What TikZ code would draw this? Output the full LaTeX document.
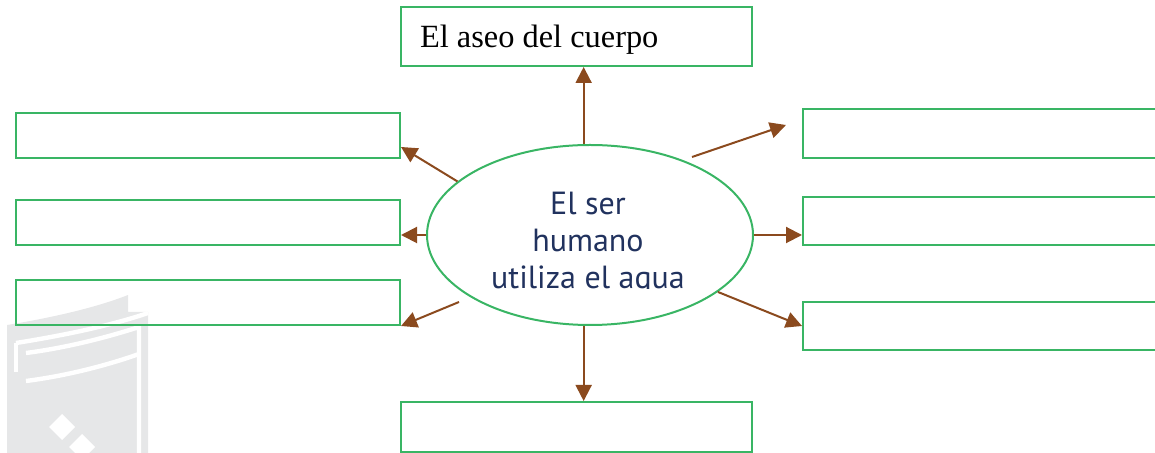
\documentclass[tikz,border=0pt]{standalone}
\usepackage{fontspec}
\setmainfont{Liberation Serif}
\newfontfamily\hubfont{PT Sans}
\usepackage{tikz}
\usetikzlibrary{positioning,calc,arrows.meta,shapes.geometric}

\definecolor{boxgreen}{RGB}{57,181,100}
\definecolor{arrbrown}{RGB}{139,74,30}
\definecolor{hubblue}{RGB}{33,50,94}
\definecolor{wmgrey}{RGB}{230,231,232}

\begin{document}
\begin{tikzpicture}[x=0.5pt, y=-0.5pt,
  box/.style={draw=boxgreen, line width=1pt, inner sep=0pt},
  wide/.style={box, minimum width=192pt, minimum height=22.5pt},
  arr/.style={-{Triangle[width=8pt,length=8pt]}, draw=arrbrown, fill=arrbrown, line width=1pt},
  wmline/.style={draw=white, line width=2.2pt}]
  \useasboundingbox (0,0) rectangle (1155,453);

  % faint mark in the corner
  \fill[wmgrey] (7,453) -- (7,325) .. controls (50,318) and (95,308) .. (128,295)
    -- (128,312) -- (148,312) -- (148,453) -- cycle;
  \draw[wmline] (16,343) .. controls (60,336) and (110,326) .. (148,313);
  \draw[wmline] (26,353) .. controls (65,348) and (105,338) .. (139,327) -- (139,453);
  \draw[wmline] (26,381) .. controls (65,376) and (105,366) .. (139,354);
  \draw[wmline] (16,343) -- (16,372);
  \fill[white] (62,414) -- (75,427) -- (62,440) -- (49,427) -- cycle;
  \fill[white] (82,434) -- (95,447) -- (82,460) -- (69,447) -- cycle;

  % centre
  \node[ellipse, draw=boxgreen, line width=1pt, inner sep=0pt,
        minimum width=163pt, minimum height=90pt] (hub) at (590,235) {};
  \begin{scope}
    \clip (400,150) rectangle (780,288.5);
    \node[font=\hubfont\fontsize{16}{18.5}\selectfont, text=hubblue, align=center]
      (hubtext) at (588,244) {El ser\\humano\\utiliza el agua};
  \end{scope}

  % boxes
  \node[box, minimum width=175.5pt, minimum height=29.5pt, text width=156.5pt,
        inner xsep=9.5pt, align=flush left, text depth=0.5pt,
        font=\fontsize{16.2}{18}\selectfont]
    (aseo) at (576.5,36.5) {El aseo del cuerpo};
  \node[wide] (lup) at (208,135.5) {};
  \node[wide] (lmid) at (208,222.5) {};
  \node[wide] (llow) at (208,302.5) {};
  \node[box, minimum width=180pt, minimum height=24.5pt] (rup) at (983,133.5) {};
  \node[box, minimum width=180pt, minimum height=24pt] (rmid) at (983,221) {};
  \node[box, minimum width=180pt, minimum height=24pt] (rlow) at (983,326) {};
  \node[box, minimum width=175.5pt, minimum height=25pt] (bot) at (576.5,427) {};

  % arrows
  \coordinate (urA) at (692,157);
  \coordinate (urB) at (786,125);
  \coordinate (llA) at (459,302);
  \draw[arr] (hub.94) -- (hub.94 |- aseo.south);
  \draw[arr] (hub.-94) -- (hub.-94 |- bot.north);
  \draw[arr] (hub.east) -- (hub.east -| rmid.west);
  \draw[arr] (hub.west) -- (hub.west -| lmid.east);
  \draw[arr] (hub.158) -- ([yshift=6pt]lup.south east);
  \draw[arr] (hub.-24) -- (rlow.west);
  \draw[arr] (urA) -- (urB);
  \draw[arr] (llA) -- (llow.south east);
\end{tikzpicture}
\end{document}
